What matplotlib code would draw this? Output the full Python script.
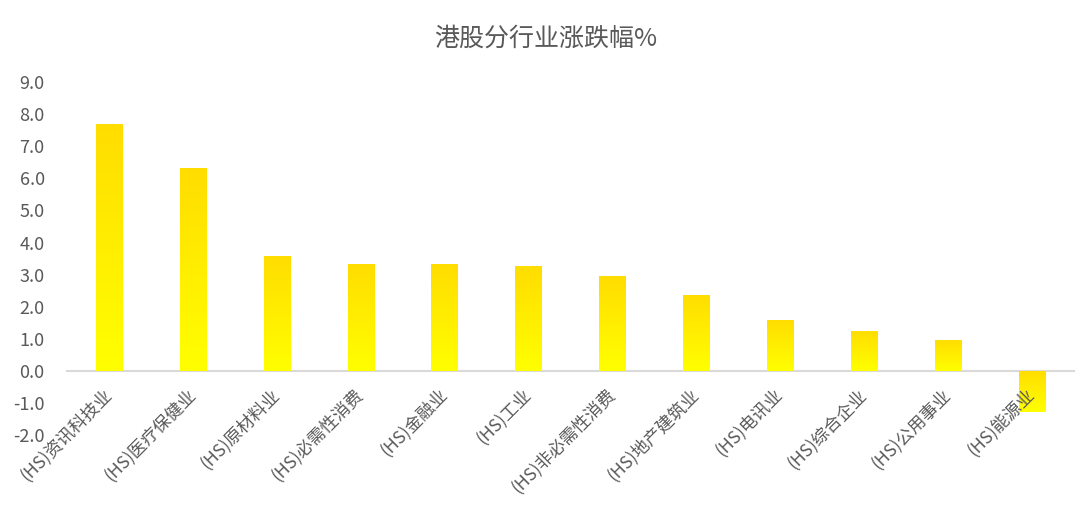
import numpy as np
import matplotlib.pyplot as plt
from matplotlib.colors import LinearSegmentedColormap

plt.rcParams['font.family'] = ['Noto Sans CJK SC', 'DejaVu Sans']

sectors = ['(HS)资讯科技业', '(HS)医疗保健业', '(HS)原材料业', '(HS)必需性消费',
           '(HS)金融业', '(HS)工业', '(HS)非必需性消费', '(HS)地产建筑业',
           '(HS)电讯业', '(HS)综合企业', '(HS)公用事业', '(HS)能源业']
changes = [7.70, 6.32, 3.58, 3.33, 3.33, 3.27, 2.96, 2.37, 1.59, 1.25, 0.97, -1.28]
yticks = [-2, -1, 0, 1, 2, 3, 4, 5, 6, 7, 8, 9]

txt = '#595959'
cmap = LinearSegmentedColormap.from_list('gold', ['#FFFF00', '#FFDD00'])

fig = plt.figure(figsize=(10.8, 5.07), dpi=100)
ax = fig.add_axes([0.062, 0.142, 0.932, 0.696])

x = np.arange(len(sectors))
bars = ax.bar(x, changes, width=0.31, color='none', zorder=2)

# gradient fill, dark on top, bright at the bottom of each bar
grad = np.linspace(0, 1, 256).reshape(-1, 1)
for b in bars:
    x0, y0 = b.get_x(), b.get_y()
    w, h = b.get_width(), b.get_height()
    lo, hi = min(y0, y0 + h), max(y0, y0 + h)
    im = ax.imshow(grad, cmap=cmap, aspect='auto', origin='lower',
                   extent=[x0, x0 + w, lo, hi], zorder=2)
    im.set_clip_path(b)

ax.set_xlim(-0.5, len(sectors) - 0.5)
ax.set_ylim(-2, 9)
ax.set_yticks(yticks)
ax.set_yticklabels([f'{v:.1f}' for v in yticks])

for s in ['top', 'right', 'left']:
    ax.spines[s].set_visible(False)
ax.spines['bottom'].set_position(('data', 0))
ax.spines['bottom'].set_color('#D9D9D9')
ax.spines['bottom'].set_linewidth(1.5)
ax.spines['bottom'].set_zorder(1)

ax.set_xticks(x)
ax.set_xticklabels(sectors, rotation=45, ha='right', va='center',
                   rotation_mode='anchor', fontsize=12.5, color=txt)
ax.xaxis.set_zorder(3)
ax.tick_params(axis='x', length=0, pad=15)
ax.tick_params(axis='y', length=0, labelsize=13, labelcolor=txt, pad=16)

fig.suptitle('港股分行业涨跌幅%', x=0.505, y=0.95, fontsize=18, color=txt)

plt.savefig('out.png', dpi=100)
